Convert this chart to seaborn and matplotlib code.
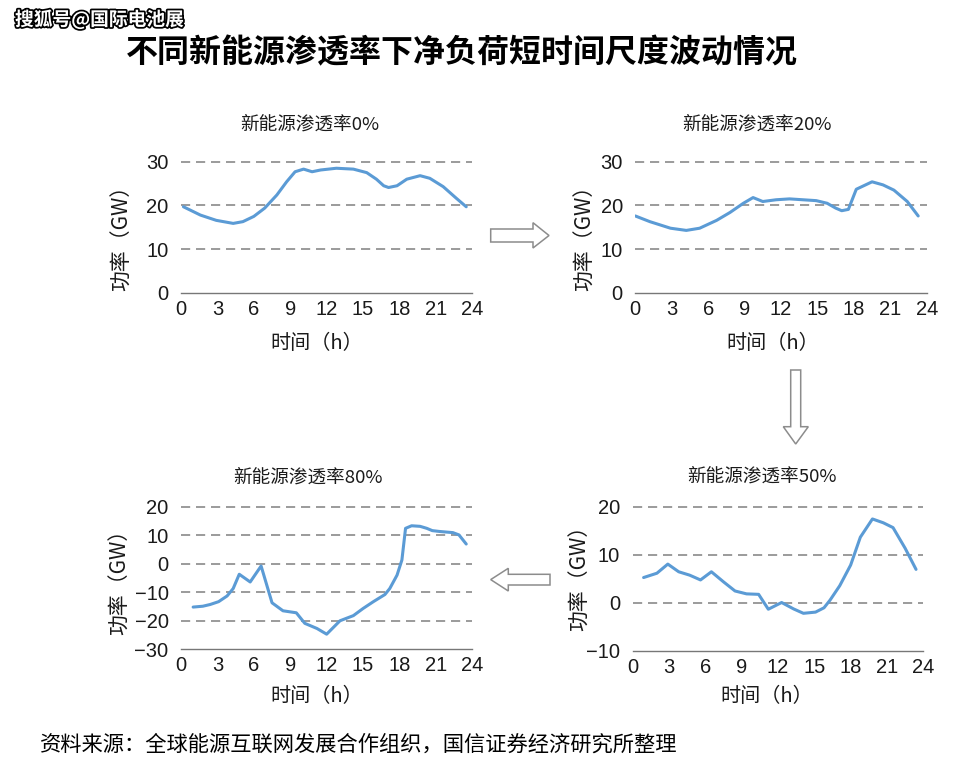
import matplotlib
matplotlib.use("Agg")
import matplotlib.pyplot as plt
import matplotlib.patheffects as pe
from matplotlib.patches import Polygon
import seaborn as sns
import pandas as pd

# data (hour, net load GW)
hours_0 = [0.2, 1.6, 2.9, 4.3, 5.1, 6.0, 6.9, 7.9, 8.7, 9.4, 10.1, 10.8, 11.5, 12.8,
           14.2, 15.3, 16.1, 16.7, 17.1, 17.8, 18.6, 19.7, 20.5, 21.6, 22.7, 23.5]
load_0 = [19.7, 17.8, 16.6, 15.9, 16.3, 17.5, 19.4, 22.4, 25.4, 27.7, 28.3, 27.7, 28.1, 28.5,
          28.3, 27.5, 26.0, 24.5, 24.1, 24.5, 26.0, 26.8, 26.2, 24.3, 21.6, 19.7]

hours_20 = [0.0, 1.2, 2.9, 4.2, 5.3, 6.7, 7.8, 8.9, 9.7, 10.5, 11.6, 12.7, 13.8, 14.9,
            15.8, 16.5, 17.0, 17.55, 18.2, 19.5, 20.4, 21.3, 22.4, 23.3]
load_20 = [17.6, 16.3, 14.8, 14.3, 14.8, 16.6, 18.4, 20.5, 21.8, 20.9, 21.3, 21.5, 21.3, 21.1,
           20.5, 19.4, 18.8, 19.1, 23.7, 25.4, 24.7, 23.5, 20.9, 17.6]

hours_50 = [0.9, 2.0, 2.9, 3.8, 4.7, 5.6, 6.5, 7.5, 8.45, 9.4, 10.4, 11.2, 12.3, 13.3,
            14.1, 15.1, 15.8, 16.3, 17.1, 18.0, 18.8, 19.8, 20.7, 21.5, 22.5, 23.4]
load_50 = [5.3, 6.2, 8.1, 6.5, 5.8, 4.8, 6.5, 4.4, 2.5, 1.9, 1.8, -1.3, 0.1, -1.25,
           -2.15, -1.9, -1.0, 0.6, 3.6, 7.9, 13.7, 17.5, 16.7, 15.7, 11.4, 7.0]

hours_80 = [1.0, 1.8, 2.4, 3.1, 3.8, 4.3, 4.8, 5.7, 6.6, 7.5, 8.4, 9.5, 10.2, 11.2, 12.0,
            13.1, 14.2, 15.0, 15.85, 16.8, 17.2, 17.8, 18.2, 18.5, 19.0, 19.7, 20.25, 20.7,
            21.3, 22.4, 22.9, 23.5]
load_80 = [-15.2, -14.9, -14.3, -13.3, -11.3, -8.7, -3.7, -6.4, -0.8, -13.7, -16.5, -17.2,
           -20.9, -22.7, -24.7, -20.0, -18.2, -15.7, -13.3, -10.8, -8.7, -4.0, 1.3, 12.4,
           13.3, 13.1, 12.4, 11.6, 11.3, 10.9, 10.1, 6.9]

x_ticks = [0, 3, 6, 9, 12, 15, 18, 21, 24]

W, H = 969, 783
LINE = "#5b9bd5"
CJK = ["Noto Sans CJK SC", "DejaVu Sans"]
NUM = ["Liberation Sans", "DejaVu Sans"]

sns.set_theme(style="white")
plt.rcParams["font.family"] = CJK
plt.rcParams["axes.unicode_minus"] = True

fig = plt.figure(figsize=(W / 100, H / 100), dpi=100)
fig.patch.set_facecolor("white")

# panel specs: title, hours, values, pixel box (x0, x24, y_bottom, y_top), ylim, yticks, label positions
panels = [
    ("新能源渗透率0%", hours_0, load_0, (181, 472.3, 293, 157.3), (0, 31), [0, 10, 20, 30],
     (310, 125), (122, 233), (317, 343)),
    ("新能源渗透率20%", hours_20, load_20, (635.3, 926.7, 293, 157.3), (0, 31), [0, 10, 20, 30],
     (757, 125), (585, 233), (773, 343)),
    ("新能源渗透率80%", hours_80, load_80, (181, 472.3, 649.3, 503.8), (-30, 21),
     [-30, -20, -10, 0, 10, 20], (308, 478), (120, 577), (317, 697)),
    ("新能源渗透率50%", hours_50, load_50, (632.7, 923.3, 651, 503.6), (-10, 20.7),
     [-10, 0, 10, 20], (762, 477), (580, 573), (767, 697)),
]

for title, hrs, vals, box, ylim, yticks, tpos, ylpos, xlpos in panels:
    x0, x1, yb, yt = box
    ax = fig.add_axes([x0 / W, 1 - yb / H, (x1 - x0) / W, (yb - yt) / H])
    df = pd.DataFrame({"hour": hrs, "load": vals})
    sns.lineplot(data=df, x="hour", y="load", ax=ax, color=LINE, linewidth=2.2)
    ax.set_xlim(0, 24)
    ax.set_ylim(*ylim)
    ax.set_xticks(x_ticks)
    ax.set_yticks(yticks)
    ax.set_xlabel("")
    ax.set_ylabel("")
    ax.set_facecolor("none")
    for s in ["top", "right", "left"]:
        ax.spines[s].set_visible(False)
    ax.spines["bottom"].set_color("#777777")
    ax.spines["bottom"].set_linewidth(1.0)
    ax.grid(False)
    for yv in yticks[1:]:
        ax.axhline(yv, color="#8a8a8a", linestyle=(0, (5.5, 3.5)), linewidth=1.2, zorder=0)
    ax.tick_params(axis="x", direction="in", length=6, width=1, color="#777777",
                   pad=5, labelsize=14.5, labelcolor="#1a1a1a")
    ax.tick_params(axis="y", length=0, pad=9, labelsize=14.5, labelcolor="#1a1a1a")
    for lab in ax.get_xticklabels() + ax.get_yticklabels():
        lab.set_family(NUM)
    fig.text(tpos[0] / W, 1 - tpos[1] / H, title, ha="center", va="center",
             fontsize=13.4, color="#1a1a1a")
    fig.text(ylpos[0] / W, 1 - ylpos[1] / H, "功率（GW）", ha="center", va="center",
             rotation=90, fontsize=15, color="#1a1a1a")
    fig.text(xlpos[0] / W, 1 - xlpos[1] / H, "时间（h）", ha="center", va="center",
             fontsize=14.5, color="#1a1a1a")

# hollow block arrows between panels (pixel coordinates overlay)
over = fig.add_axes([0, 0, 1, 1])
over.set_xlim(0, W)
over.set_ylim(H, 0)
over.axis("off")
over.patch.set_alpha(0)
arrows = [
    [(490.7, 229), (533, 229), (533, 222.7), (549, 235.5), (533, 248), (533, 242), (490.7, 242)],
    [(790.7, 370), (800.7, 370), (800.7, 426.7), (808.3, 426.7), (795.7, 444), (783.3, 426.7),
     (790.7, 426.7)],
    [(550, 574.3), (508.3, 574.3), (508.3, 568.3), (490.7, 579.6), (508.3, 591), (508.3, 585),
     (550, 585)],
]
for pts in arrows:
    over.add_patch(Polygon(pts, closed=True, facecolor="white", edgecolor="#8c8c8c", linewidth=1.1))

fig.text(462 / W, 1 - 53 / H, "不同新能源渗透率下净负荷短时间尺度波动情况", ha="center", va="center",
         fontsize=23, fontweight="bold", color="black")
fig.text(15 / W, 1 - 20 / H, "搜狐号@国际电池展", ha="left", va="center", fontsize=13.5,
         fontweight="bold", color="white",
         path_effects=[pe.withStroke(linewidth=2.5, foreground="black")])
fig.text(40 / W, 1 - 745 / H, "资料来源：全球能源互联网发展合作组织，国信证券经济研究所整理",
         ha="left", va="center", fontsize=15.3, color="black")

fig.savefig("out.png", dpi=100)
